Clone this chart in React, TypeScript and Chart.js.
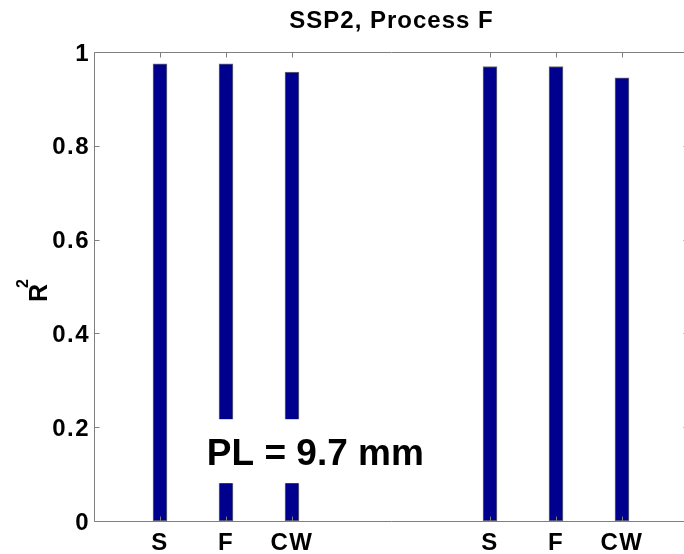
import React, { useEffect, useRef } from "react";
import { Chart, registerables } from "chart.js";

Chart.register(...registerables);

// ---- data ----
const categories = ["S", "F", "CW", "S", "F", "CW"];
const positions = [1, 2, 3, 6, 7, 8];
const r2Values = [0.975, 0.975, 0.957, 0.969, 0.969, 0.945];
const yTicks = [0, 0.2, 0.4, 0.6, 0.8, 1];
const xTicks = positions;
const xRange = [0, 9];
const yRange = [0, 1];
const titleText = "SSP2, Process F";
const yLabelMain = "R";
const yLabelSup = "2";
const annotationText = "PL = 9.7 mm";
const annotationPos = [1.71, 0.119];

const FONT = '"Liberation Sans", Arial, Helvetica, sans-serif';
const SPACING = "1.5px";

const spacingPlugin = {
  id: "spacing",
  beforeInit(chart: any) {
    chart.ctx.letterSpacing = SPACING;
  },
  beforeLayout(chart: any) {
    chart.ctx.letterSpacing = SPACING;
  },
  beforeDraw(chart: any) {
    chart.ctx.letterSpacing = SPACING;
  },
};

const decorPlugin = {
  id: "decor",
  afterDatasetsDraw(chart: any) {
    const { ctx, chartArea, scales } = chart;
    const { left, right, top, bottom } = chartArea;
    const x = scales.x;
    const y = scales.y;
    ctx.save();
    // annotation with white background box
    ctx.letterSpacing = "0px";
    ctx.font = `bold 37px ${FONT}`;
    const tx = x.getPixelForValue(annotationPos[0]);
    const ty = y.getPixelForValue(annotationPos[1]);
    const w = ctx.measureText(annotationText).width;
    ctx.fillStyle = "#ffffff";
    ctx.fillRect(tx - 12, ty - 46, w + 24, 64);
    ctx.fillStyle = "#000000";
    ctx.textBaseline = "alphabetic";
    ctx.textAlign = "left";
    ctx.fillText(annotationText, tx, ty);

    // box frame
    ctx.strokeStyle = "#7f7f7f";
    ctx.lineWidth = 1;
    const L = Math.round(left) + 0.5;
    const R = Math.round(right) + 0.5;
    const T = Math.round(top) + 0.5;
    const B = Math.round(bottom) + 0.5;
    ctx.beginPath();
    ctx.moveTo(L, T);
    ctx.lineTo(R, T);
    ctx.lineTo(R, B);
    ctx.lineTo(L, B);
    ctx.closePath();
    ctx.stroke();
    // inward ticks
    const tl = 5;
    ctx.beginPath();
    for (const v of xTicks) {
      const px = Math.round(x.getPixelForValue(v)) + 0.5;
      ctx.moveTo(px, B);
      ctx.lineTo(px, B - tl);
      ctx.moveTo(px, T);
      ctx.lineTo(px, T + tl);
    }
    for (const v of yTicks) {
      const py = Math.round(y.getPixelForValue(v)) + 0.5;
      ctx.moveTo(L, py);
      ctx.lineTo(L + tl, py);
      ctx.moveTo(R, py);
      ctx.lineTo(R - tl, py);
    }
    ctx.stroke();

    // title
    ctx.fillStyle = "#000000";
    ctx.letterSpacing = "1px";
    ctx.font = `bold 24px ${FONT}`;
    ctx.textAlign = "center";
    ctx.textBaseline = "alphabetic";
    ctx.fillText(titleText, (left + right) / 2 + 0.5, 28);

    // y label (rotated) with superscript
    ctx.letterSpacing = "0px";
    ctx.translate(47, 302);
    ctx.rotate(-Math.PI / 2);
    ctx.textAlign = "left";
    ctx.font = `bold 25px ${FONT}`;
    ctx.fillText(yLabelMain, 0, 0);
    const rw = ctx.measureText(yLabelMain).width;
    ctx.font = `bold 16px ${FONT}`;
    ctx.fillText(yLabelSup, rw - 4, -19);
    ctx.restore();
  },
};

export default function App() {
  const ref = useRef<HTMLCanvasElement | null>(null);

  useEffect(() => {
    if (!ref.current) return;
    const chart = new Chart(ref.current, {
      type: "bar",
      data: {
        datasets: [
          {
            data: positions.map((p, i) => ({ x: p, y: r2Values[i] })),
            backgroundColor: "#00008f",
            borderColor: "#6f6f6f",
            borderWidth: 1,
            borderSkipped: false,
            barThickness: 14,
          } as any,
        ],
      },
      options: {
        animation: false,
        responsive: false,
        layout: { padding: { left: 0, right: 12, top: 52, bottom: 0 } },
        plugins: {
          legend: { display: false },
          tooltip: { enabled: false },
          title: { display: false },
        },
        scales: {
          x: {
            type: "linear",
            min: xRange[0],
            max: xRange[1],
            offset: false,
            grid: { display: false, drawTicks: false, offset: false },
            border: { display: false },
            afterBuildTicks: (s: any) => {
              s.ticks = xTicks.map((v) => ({ value: v }));
            },
            afterFit: (s: any) => {
              s.height = 33;
            },
            ticks: {
              autoSkip: false,
              maxRotation: 0,
              padding: 8,
              color: "#000000",
              font: { family: FONT, size: 24, weight: "bold" },
              callback: (v: any) => categories[positions.indexOf(Number(v))] ?? "",
            },
          },
          y: {
            type: "linear",
            min: yRange[0],
            max: yRange[1],
            grid: { display: false, drawTicks: false },
            border: { display: false },
            afterBuildTicks: (s: any) => {
              s.ticks = yTicks.map((v) => ({ value: v }));
            },
            afterFit: (s: any) => {
              s.width = 94;
            },
            ticks: {
              autoSkip: false,
              padding: 4,
              labelOffset: 2,
              color: "#000000",
              font: { family: FONT, size: 24, weight: "bold" },
              callback: (v: any) => String(v),
            },
          },
        },
      } as any,
      plugins: [spacingPlugin, decorPlugin],
    });
    return () => chart.destroy();
  }, []);

  return (
    <div
      style={{
        position: "fixed",
        left: 0,
        top: 0,
        width: 684,
        height: 554,
        overflow: "hidden",
        background: "#ffffff",
      }}
    >
      <canvas ref={ref} width={700} height={554} style={{ display: "block", width: 700, height: 554 }} />
    </div>
  );
}
